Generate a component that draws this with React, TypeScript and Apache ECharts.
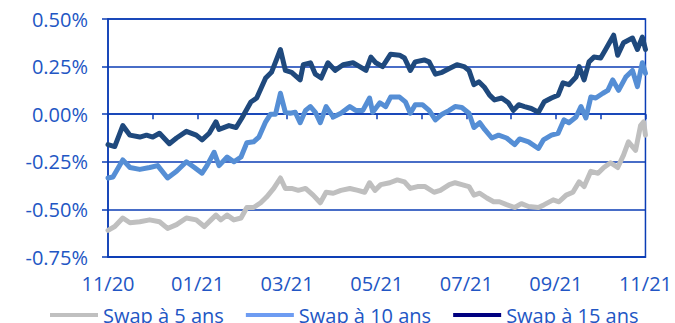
import React, { useEffect, useRef } from "react";
import * as echarts from "echarts";

const monthLabels = ["11/20", "12/20", "01/21", "02/21", "03/21", "04/21", "05/21", "06/21", "07/21", "08/21", "09/21", "10/21", "11/21"];
const yTicks = [-0.75, -0.5, -0.25, 0, 0.25, 0.5];
const seriesNames = ["Swap à 5 ans", "Swap à 10 ans", "Swap à 15 ans"];

// [months since 11/20, rate in %]
const swap5: number[][] = [
  [0.00, -0.61], [0.15, -0.59], [0.33, -0.545], [0.49, -0.57], [0.71, -0.565], [0.93, -0.555],
  [1.15, -0.565], [1.33, -0.60], [1.53, -0.58], [1.75, -0.545], [1.97, -0.555], [2.15, -0.59],
  [2.30, -0.555], [2.41, -0.53], [2.52, -0.555], [2.66, -0.53], [2.81, -0.555], [2.97, -0.545],
  [3.10, -0.49], [3.25, -0.49], [3.41, -0.465], [3.54, -0.435], [3.70, -0.39], [3.85, -0.335],
  [3.96, -0.39], [4.10, -0.39], [4.25, -0.40], [4.41, -0.39], [4.58, -0.425], [4.74, -0.465],
  [4.87, -0.41], [5.03, -0.415], [5.20, -0.40], [5.40, -0.39], [5.58, -0.40], [5.73, -0.41],
  [5.84, -0.36], [5.96, -0.40], [6.09, -0.37], [6.29, -0.36], [6.46, -0.345], [6.62, -0.355],
  [6.75, -0.39], [6.91, -0.38], [7.08, -0.38], [7.28, -0.41], [7.42, -0.40], [7.62, -0.37],
  [7.75, -0.36], [7.90, -0.37], [8.06, -0.38], [8.17, -0.425], [8.30, -0.415], [8.46, -0.44],
  [8.61, -0.46], [8.74, -0.46], [8.90, -0.475], [9.08, -0.49], [9.23, -0.47], [9.39, -0.485],
  [9.61, -0.49], [9.74, -0.475], [9.94, -0.45], [10.07, -0.46], [10.23, -0.425], [10.38, -0.41],
  [10.52, -0.355], [10.63, -0.38], [10.78, -0.30], [10.94, -0.31], [11.07, -0.28], [11.22, -0.255],
  [11.38, -0.28], [11.51, -0.215], [11.62, -0.145], [11.78, -0.19], [11.89, -0.06], [11.96, -0.04],
  [12.00, -0.11],
];

const swap10: number[][] = [
  [0.00, -0.335], [0.11, -0.33], [0.33, -0.24], [0.49, -0.28], [0.71, -0.29], [0.93, -0.28],
  [1.11, -0.27], [1.33, -0.335], [1.53, -0.30], [1.75, -0.25], [1.93, -0.28], [2.10, -0.31],
  [2.21, -0.27], [2.37, -0.20], [2.48, -0.27], [2.66, -0.225], [2.81, -0.25], [2.97, -0.225],
  [3.10, -0.15], [3.25, -0.145], [3.37, -0.12], [3.52, -0.04], [3.63, 0.0], [3.74, 0.0],
  [3.85, 0.11], [3.96, 0.01], [4.07, 0.005], [4.18, 0.01], [4.29, -0.045], [4.41, 0.02],
  [4.52, 0.04], [4.63, 0.01], [4.74, -0.045], [4.87, 0.04], [5.03, -0.015], [5.20, 0.005],
  [5.40, 0.04], [5.53, 0.02], [5.69, 0.02], [5.84, 0.085], [5.91, 0.01], [6.07, 0.06],
  [6.20, 0.04], [6.31, 0.09], [6.51, 0.09], [6.64, 0.065], [6.75, 0.005], [6.86, 0.05],
  [7.02, 0.05], [7.17, 0.02], [7.31, -0.03], [7.46, 0.0], [7.62, 0.02], [7.75, 0.04],
  [7.90, 0.035], [8.06, 0.005], [8.17, -0.07], [8.30, -0.045], [8.41, -0.08], [8.57, -0.125],
  [8.72, -0.11], [8.90, -0.125], [9.08, -0.16], [9.19, -0.13], [9.39, -0.145], [9.61, -0.18],
  [9.72, -0.135], [9.90, -0.11], [10.05, -0.10], [10.18, -0.03], [10.29, -0.045], [10.45, -0.015],
  [10.56, 0.04], [10.67, -0.02], [10.78, 0.09], [10.89, 0.085], [11.05, 0.11], [11.16, 0.125],
  [11.27, 0.18], [11.40, 0.125], [11.56, 0.195], [11.71, 0.23], [11.82, 0.145], [11.93, 0.27],
  [12.00, 0.215],
];

const swap15: number[][] = [
  [0.00, -0.16], [0.15, -0.17], [0.33, -0.06], [0.49, -0.11], [0.71, -0.12], [0.86, -0.11],
  [1.00, -0.12], [1.15, -0.10], [1.37, -0.155], [1.53, -0.125], [1.75, -0.09], [1.97, -0.11],
  [2.10, -0.135], [2.26, -0.10], [2.41, -0.04], [2.48, -0.08], [2.70, -0.06], [2.86, -0.07],
  [2.99, -0.02], [3.19, 0.064], [3.32, 0.085], [3.52, 0.19], [3.65, 0.22], [3.85, 0.34],
  [3.96, 0.23], [4.10, 0.22], [4.29, 0.18], [4.36, 0.26], [4.52, 0.27], [4.63, 0.21],
  [4.76, 0.19], [4.91, 0.27], [5.07, 0.23], [5.25, 0.26], [5.47, 0.27], [5.62, 0.25],
  [5.76, 0.23], [5.87, 0.30], [5.98, 0.27], [6.13, 0.25], [6.31, 0.315], [6.51, 0.31],
  [6.62, 0.295], [6.75, 0.23], [6.86, 0.275], [7.06, 0.285], [7.17, 0.275], [7.31, 0.21],
  [7.46, 0.22], [7.62, 0.24], [7.79, 0.26], [7.95, 0.25], [8.06, 0.23], [8.17, 0.155],
  [8.28, 0.17], [8.41, 0.14], [8.52, 0.10], [8.63, 0.075], [8.79, 0.085], [8.94, 0.06],
  [9.05, 0.02], [9.17, 0.05], [9.30, 0.04], [9.45, 0.03], [9.61, 0.01], [9.74, 0.065],
  [9.90, 0.085], [10.05, 0.10], [10.16, 0.165], [10.29, 0.155], [10.45, 0.195], [10.52, 0.25],
  [10.63, 0.18], [10.74, 0.275], [10.85, 0.30], [11.00, 0.295], [11.11, 0.34], [11.29, 0.415],
  [11.38, 0.31], [11.51, 0.375], [11.71, 0.40], [11.82, 0.34], [11.93, 0.405], [12.00, 0.34],
];

const lineColors = ["#BFBFBF", "#558ED5", "#1F497D"];
const legendColors = ["#C0C0C0", "#6E9CF2", "#000080"];
const axisColor = "#0B3DB5";
const textColor = "#2256C4";
const fontFamily = "'Open Sans', 'Noto Sans', sans-serif";

export default function App() {
  const ref = useRef<HTMLDivElement>(null);
  useEffect(() => {
    if (!ref.current) return;
    const chart = echarts.init(ref.current, null, { renderer: "svg" });
    const seriesData = [swap5, swap10, swap15];
    chart.setOption({
      animation: false,
      textStyle: { fontFamily },
      grid: {
        left: 108,
        right: 25,
        top: 19,
        bottom: 66,
        show: true,
        borderColor: axisColor,
        borderWidth: 1.5,
        containLabel: false,
      },
      legend: {
        left: 45,
        top: 300,
        icon: "rect",
        itemWidth: 48,
        itemHeight: 4,
        itemGap: 22,
        textStyle: { color: textColor, fontSize: 20, fontFamily },
        data: seriesNames.map((n, i) => ({ name: n, itemStyle: { color: legendColors[i] } })),
      },
      xAxis: [
        {
          type: "value",
          min: 0,
          max: 12,
          interval: 1,
          position: "bottom",
          axisLine: { show: true, onZero: false, lineStyle: { color: axisColor, width: 1.5 } },
          axisTick: { show: false },
          splitLine: { show: false },
          axisLabel: {
            color: textColor,
            fontSize: 20,
            fontFamily,
            margin: 16,
            formatter: (v: number) => (Math.round(v) % 2 === 0 ? monthLabels[Math.round(v)] : ""),
          },
        },
        {
          type: "value",
          min: 0,
          max: 12,
          interval: 1,
          position: "top",
          axisLine: { show: true, onZero: true, lineStyle: { color: axisColor, width: 1.5 } },
          axisTick: { show: true, inside: true, length: 5, lineStyle: { color: axisColor, width: 1.5 } },
          axisLabel: { show: false },
          splitLine: { show: false },
        },
      ],
      yAxis: {
        type: "value",
        min: yTicks[0],
        max: yTicks[yTicks.length - 1],
        interval: 0.25,
        axisLine: { show: true, lineStyle: { color: axisColor, width: 1.5 } },
        axisTick: { show: true, length: 6, lineStyle: { color: axisColor, width: 1.5 } },
        splitLine: { show: true, lineStyle: { color: axisColor, width: 1.5 } },
        axisLabel: {
          color: textColor,
          fontSize: 20,
          fontFamily,
          margin: 20,
          formatter: (v: number) => v.toFixed(2) + "%",
        },
      },
      series: seriesNames.map((n, i) => ({
        name: n,
        type: "line",
        xAxisIndex: 0,
        data: seriesData[i],
        showSymbol: false,
        symbol: "none",
        lineStyle: { color: lineColors[i], width: 5, join: "round", cap: "round" },
        itemStyle: { color: lineColors[i] },
        z: 3 + i,
      })),
    });
    return () => chart.dispose();
  }, []);
  return <div ref={ref} style={{ width: 675, height: 323, position: "absolute", left: 0, top: 0 }} />;
}
